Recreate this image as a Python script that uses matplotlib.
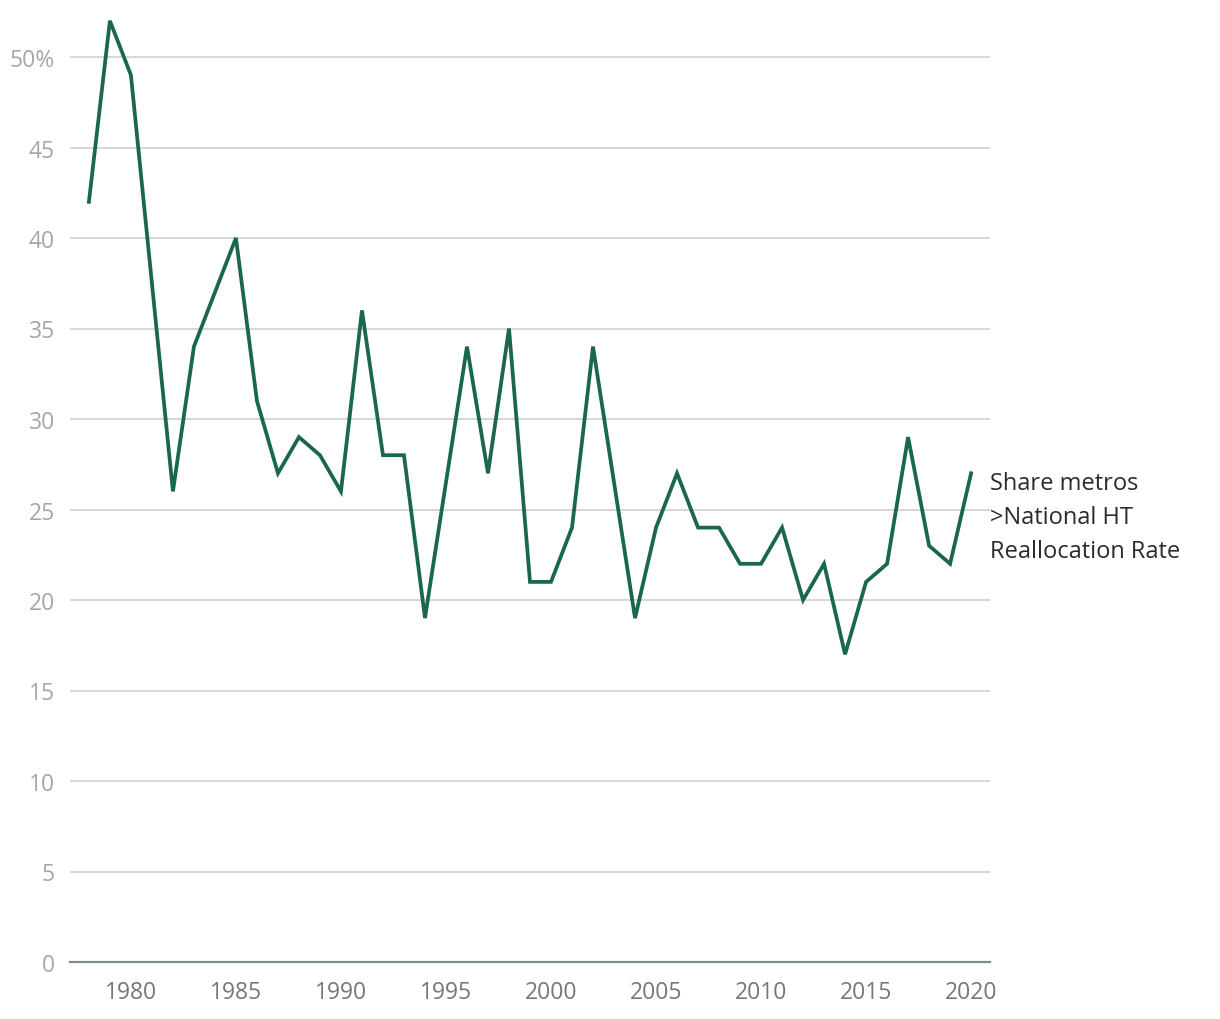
import matplotlib
matplotlib.use("Agg")
import matplotlib.pyplot as plt
import matplotlib.transforms as mtransforms

# 数据
years = list(range(1978, 2021))
share = [42, 52, 49, 37.5, 26, 34, 37, 40, 31, 27,
         29, 28, 26, 36, 28, 28, 19, 26.5, 34, 27,
         35, 21, 21, 24, 34, 26.5, 19, 24, 27, 24,
         24, 22, 22, 24, 20, 22, 17, 21, 22, 29,
         23, 22, 27]
yticks = [0, 5, 10, 15, 20, 25, 30, 35, 40, 45, 50]
ytick_labels = ["0", "5", "10", "15", "20", "25", "30", "35", "40", "45", "50%"]
xticks = [1980, 1985, 1990, 1995, 2000, 2005, 2010, 2015, 2020]
series_label = "Share metros\n>National HT\nReallocation Rate"

plt.rcParams["font.family"] = ["Open Sans", "DejaVu Sans"]

fig = plt.figure(figsize=(12.2, 10.2), dpi=100)
ax = fig.add_axes([70 / 1220, 57 / 1020, 920 / 1220, 53 * 18.1 / 1020])

# 网格线
for v in yticks[1:]:
    ax.axhline(v, color="#cccccc", linewidth=1.1, zorder=1)

ax.plot(years, share, color="#1b6651", linewidth=2.7, zorder=3,
        solid_joinstyle="miter")

ax.set_xlim(1977.1, 2020.9)
ax.set_ylim(0, 53)

for side in ["top", "right", "left"]:
    ax.spines[side].set_visible(False)
ax.spines["bottom"].set_color("#7f8a8c")
ax.spines["bottom"].set_linewidth(1.6)

ax.set_yticks(yticks)
ax.set_yticklabels(ytick_labels)
ax.set_xticks(xticks)
ax.tick_params(axis="y", length=0, pad=11, labelsize=16.5, labelcolor="#a6a6a6")
ax.tick_params(axis="x", length=0, pad=13, labelsize=16.5, labelcolor="#777777")

# 系列标签
trans = mtransforms.blended_transform_factory(ax.transAxes, ax.transData)
ax.text(1.0, 24.6, series_label, transform=trans, ha="left", va="center",
        fontsize=17, color="#2b2b2b", linespacing=1.55)

fig.savefig("out.png", dpi=100)
